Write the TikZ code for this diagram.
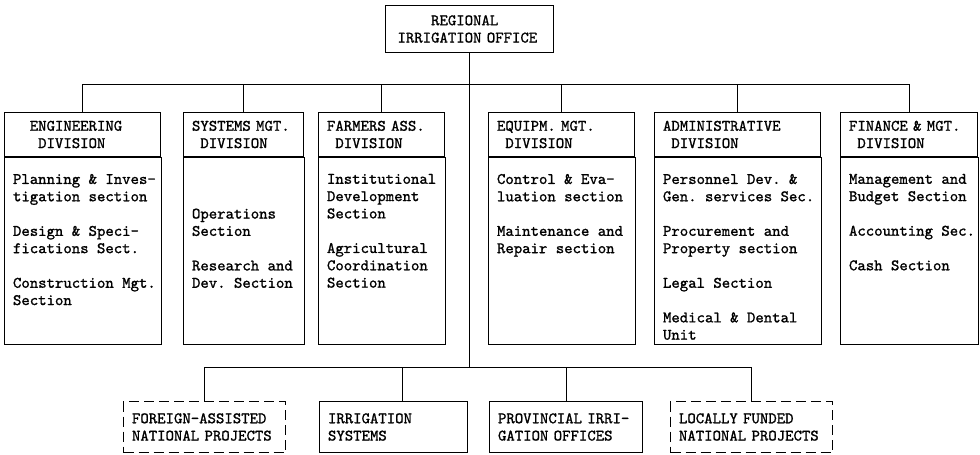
\documentclass[tikz,border=0pt]{standalone}
\usepackage{fontspec}
\setmonofont{lmmono10-regular.otf}[FakeBold=1.2, WordSpace={1,0,0}]
\usetikzlibrary{positioning}

\begin{document}
\frenchspacing
\begin{tikzpicture}[x=1pt, y=-1pt, line width=1pt,
    every node/.style={font=\ttfamily\fontsize{16pt}{17.3pt}\selectfont},
    office/.style={draw, align=left, minimum height=44pt, inner xsep=8.5pt, inner ysep=0pt},
    sect/.style={anchor=north west, inner sep=0pt, align=left},
    unit/.style={draw, align=left, minimum height=51pt, inner xsep=8.5pt, inner ysep=0pt},
    planned/.style={unit, dash pattern=on 10pt off 5pt}]
    \useasboundingbox (0,0) rectangle (980,455);

    % head office
    \node[office, text width=144pt, inner xsep=12pt, minimum height=47pt, anchor=north west] (rio) at (385,5) {\phantom{XXXX}REGIONAL\\IRRIGATION OFFICE};

    % divisions
    \node[office, text width=139pt, anchor=north west] (eng) at (4,112) {\phantom{XX}ENGINEERING\\\phantom{XXX}DIVISION};
    \node[office, text width=103pt, right=22pt of eng] (sys) {SYSTEMS MGT.\\\phantom{X}DIVISION};
    \node[office, text width=109pt, right=14pt of sys] (fas) {FARMERS ASS.\\\phantom{X}DIVISION};
    \node[office, text width=129pt, right=43pt of fas] (eqp) {EQUIPM. MGT.\\\phantom{X}DIVISION};
    \node[office, text width=149pt, right=19pt of eqp] (adm) {ADMINISTRATIVE\\\phantom{X}DIVISION};
    \node[office, text width=120pt, right=19pt of adm] (fin) {FINANCE \& MGT.\\\phantom{X}DIVISION};
    \foreach \dv in {eng,sys,fas,eqp,adm,fin}
        \draw (\dv.south west) rectangle ([yshift=-187pt]\dv.south east);

    % sections
    \node[sect] (eng-s) at ([shift={(8.5pt,-16.5pt)}]eng.south west) {Planning \& Inves-\\tigation section\\[17.3pt]Design \& Speci-\\fications Sect.\\[17.3pt]Construction Mgt.\\Section};
    \node[sect] (sys-s) at ([shift={(8.5pt,-51.1pt)}]sys.south west) {Operations\\Section\\[17.3pt]Research and\\Dev. Section};
    \node[sect] (fas-s) at ([shift={(8.5pt,-16.5pt)}]fas.south west) {Institutional\\Development\\Section\\[17.3pt]Agricultural\\Coordination\\Section};
    \node[sect] (eqp-s) at ([shift={(8.5pt,-16.5pt)}]eqp.south west) {Control \& Eva-\\luation section\\[17.3pt]Maintenance and\\Repair section};
    \node[sect] (adm-s) at ([shift={(8.5pt,-16.5pt)}]adm.south west) {Personnel Dev. \&\\Gen. services Sec.\\[17.3pt]Procurement and\\Property section\\[17.3pt]Legal Section\\[17.3pt]Medical \& Dental\\Unit};
    \node[sect] (fin-s) at ([shift={(8.5pt,-16.5pt)}]fin.south west) {Management and\\Budget Section\\[17.3pt]Accounting Sec.\\[17.3pt]Cash Section};

    % field units
    \node[planned, text width=145pt, anchor=north west] (fap) at (123,401) {FOREIGN-ASSISTED\\NATIONAL PROJECTS};
    \node[unit, text width=131pt, right=33pt of fap] (irs) {IRRIGATION\\SYSTEMS};
    \node[unit, text width=136pt, right=21pt of irs] (pio) {PROVINCIAL IRRI-\\GATION OFFICES};
    \node[planned, text width=145pt, right=27pt of pio] (lfp) {LOCALLY FUNDED\\NATIONAL PROJECTS};

    % lines
    \coordinate (bus) at (0,84);
    \coordinate (lowbus) at (0,367);
    \draw (rio.south) -- (rio.south |- lowbus);
    \foreach \dv in {eng,sys,fas,eqp,adm,fin}
        \draw (rio.south |- bus) -| (\dv.north);
    \foreach \un in {fap,pio,lfp}
        \draw (rio.south |- lowbus) -| (\un.north);
    \draw (rio.south |- lowbus) -| ([xshift=9pt]irs.north);
\end{tikzpicture}
\end{document}
